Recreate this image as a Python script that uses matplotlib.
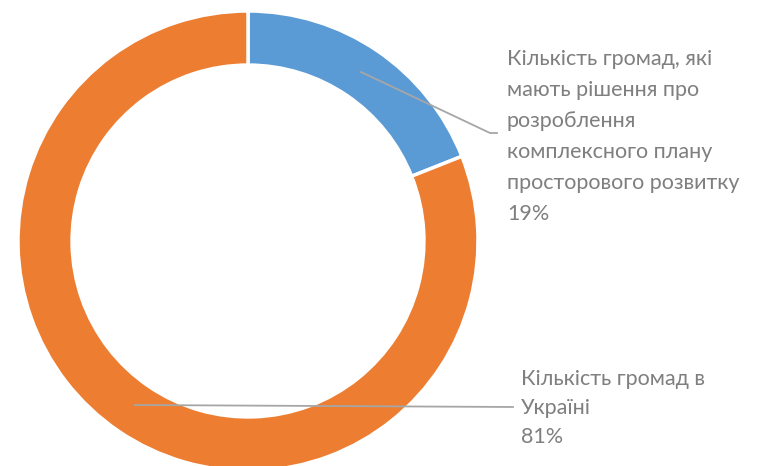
import matplotlib.pyplot as plt

# Data
labels = ['Кількість громад, які\nмають рішення про\nрозроблення\nкомплексного плану\nпросторового розвитку',
          'Кількість громад в\nУкраїні']
values = [19, 81]
colors = ['#5b9bd5', '#ed7d31']

plt.rcParams['font.family'] = ['Lato', 'DejaVu Sans']

W, H = 763, 466
fig = plt.figure(figsize=(W / 100, H / 100), dpi=100)

# ring centre and radius in pixels
cx, cy, r = 248, 241, 230
ax = fig.add_axes([(cx - r) / W, (H - cy - r) / H, 2 * r / W, 2 * r / H])
wedges, _ = ax.pie(values, colors=colors, startangle=90, counterclock=False,
                   radius=1, wedgeprops=dict(width=0.235, edgecolor='white', linewidth=2.5))
ax.set_xlim(-1, 1)
ax.set_ylim(-1, 1)
ax.axis('off')


def px(x, y):
    return (x - cx) / r, (cy - y) / r


# leader lines
l1 = [px(361, 72), px(490, 133), px(497, 133)]
l2 = [px(135, 405), px(513, 407)]
for line in (l1, l2):
    xs, ys = zip(*line)
    ax.plot(xs, ys, color='#a6a6a6', lw=1.3, clip_on=False)

# labels
pct = [f'{round(v / sum(values) * 100)}%' for v in values]
fig.text(507 / W, 1 - 49 / H, labels[0] + '\n' + pct[0], color='#7f7f7f',
         fontsize=15.5, va='top', ha='left', linespacing=1.69)
fig.text(521 / W, 1 - 369 / H, labels[1] + '\n' + pct[1], color='#7f7f7f',
         fontsize=15.5, va='top', ha='left', linespacing=1.57)

fig.savefig('out.png', dpi=100)
